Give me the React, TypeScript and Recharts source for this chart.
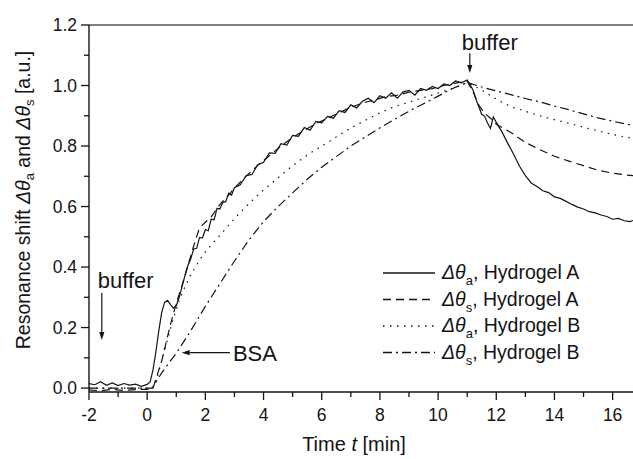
import React from "react";
import { LineChart, Line, XAxis, YAxis, ReferenceLine, Legend } from "recharts";

// [time (min), resonance shift (a.u.)]
const gelAThetaA: [number, number][] = [
  [-2, 0.015], [-1.8, 0.011], [-1.6, 0.021], [-1.4, 0.009], [-1.2, 0.017], [-1, 0.008],
  [-0.8, 0.015], [-0.6, 0.01], [-0.4, 0.013], [-0.2, 0.006], [0, 0.012],
  [0.1, 0.02], [0.2, 0.06], [0.3, 0.12], [0.4, 0.19], [0.5, 0.25], [0.6, 0.283], [0.7, 0.29],
  [0.8, 0.276], [0.9, 0.264], [1, 0.272], [1.1, 0.3], [1.2, 0.336], [1.3, 0.372], [1.4, 0.405],
  [1.5, 0.428], [1.6, 0.46], [1.7, 0.462], [1.8, 0.498], [1.9, 0.496], [2, 0.524], [2.1, 0.52],
  [2.2, 0.558], [2.3, 0.556], [2.4, 0.594], [2.5, 0.592], [2.6, 0.614], [2.7, 0.616],
  [2.8, 0.644], [2.9, 0.638], [3, 0.662],
  [3.2, 0.672], [3.4, 0.702], [3.6, 0.706], [3.8, 0.738], [4, 0.746], [4.2, 0.777],
  [4.4, 0.776], [4.6, 0.808], [4.8, 0.803], [5, 0.835], [5.2, 0.832], [5.4, 0.861],
  [5.6, 0.852], [5.8, 0.881], [6, 0.877], [6.2, 0.898], [6.4, 0.892], [6.6, 0.917],
  [6.8, 0.911], [7, 0.936], [7.2, 0.926], [7.4, 0.948], [7.6, 0.958], [7.8, 0.943],
  [8, 0.966], [8.2, 0.958], [8.4, 0.976], [8.6, 0.958], [8.8, 0.979], [9, 0.984],
  [9.2, 0.968], [9.4, 0.99], [9.6, 0.984], [9.8, 0.997], [10, 0.99], [10.2, 1.005],
  [10.4, 1.0], [10.6, 1.015], [10.8, 1.009], [11, 1.018],
  [11.1, 1.002], [11.2, 0.985], [11.3, 0.955], [11.4, 0.93], [11.5, 0.905], [11.6, 0.898],
  [11.7, 0.876], [11.8, 0.858], [11.9, 0.896], [12, 0.878],
  [12.2, 0.846], [12.4, 0.808], [12.6, 0.772], [12.8, 0.733], [13, 0.702], [13.2, 0.678],
  [13.4, 0.666], [13.6, 0.652], [13.8, 0.646], [14, 0.632], [14.2, 0.627], [14.4, 0.617],
  [14.6, 0.607], [14.8, 0.598], [15, 0.592], [15.2, 0.583], [15.4, 0.579], [15.6, 0.572],
  [15.8, 0.567], [16, 0.558], [16.2, 0.561], [16.4, 0.553], [16.6, 0.55], [16.7, 0.554],
];

const gelAThetaS: [number, number][] = [
  [-2, -0.006], [-1.6, -0.009], [-1.2, -0.004], [-0.8, -0.008], [-0.4, -0.005], [0, -0.004],
  [0.2, 0], [0.3, 0.03], [0.4, 0.06], [0.5, 0.09], [0.6, 0.13], [0.7, 0.17], [0.8, 0.21],
  [0.9, 0.245], [1, 0.28], [1.2, 0.34], [1.4, 0.405], [1.6, 0.47], [1.8, 0.53], [2, 0.548],
  [2.2, 0.566], [2.4, 0.594], [2.6, 0.618], [2.8, 0.638], [3, 0.661], [3.4, 0.7], [3.8, 0.736],
  [4.2, 0.768], [4.6, 0.8], [5, 0.828], [5.4, 0.852], [5.8, 0.874], [6.2, 0.892], [6.6, 0.91],
  [7, 0.928], [7.4, 0.942], [7.8, 0.952], [8.2, 0.963], [8.6, 0.968], [9, 0.978], [9.4, 0.984],
  [9.8, 0.99], [10.2, 1.0], [10.6, 1.008], [11, 1.014], [11.2, 0.98], [11.4, 0.935],
  [11.6, 0.908], [11.8, 0.892], [12, 0.872], [12.5, 0.845], [13, 0.812], [13.5, 0.788],
  [14, 0.766], [14.5, 0.75], [15, 0.735], [15.5, 0.72], [16, 0.71], [16.4, 0.705], [16.7, 0.702],
];

const gelBThetaA: [number, number][] = [
  [-2, 0], [0.2, 0], [0.3, 0.02], [0.5, 0.09], [0.7, 0.16], [0.9, 0.23], [1.1, 0.29],
  [1.3, 0.335], [1.5, 0.375], [1.75, 0.415], [2, 0.45], [2.5, 0.505], [3, 0.56], [3.5, 0.61],
  [4, 0.655], [4.5, 0.695], [5, 0.735], [5.5, 0.77], [6, 0.8], [6.5, 0.83], [7, 0.86],
  [7.5, 0.885], [8, 0.91], [8.5, 0.93], [9, 0.945], [9.5, 0.96], [10, 0.975], [10.5, 0.99],
  [11, 1.01], [11.5, 0.985], [12, 0.955], [12.5, 0.93], [13, 0.915], [13.5, 0.9], [14, 0.887],
  [14.5, 0.875], [15, 0.862], [15.5, 0.85], [16, 0.838], [16.7, 0.825],
];

const gelBThetaS: [number, number][] = [
  [-2, 0], [0.15, 0], [0.2, 0.005], [0.5, 0.05], [0.8, 0.09], [1, 0.115], [1.2, 0.145],
  [1.5, 0.19], [1.75, 0.23], [2, 0.27], [2.5, 0.345], [3, 0.42], [3.5, 0.49], [4, 0.55],
  [4.5, 0.6], [5, 0.645], [5.5, 0.69], [6, 0.73], [6.5, 0.765], [7, 0.8], [7.5, 0.83],
  [8, 0.86], [8.5, 0.888], [9, 0.915], [9.5, 0.94], [10, 0.965], [10.5, 0.99], [11, 1.01],
  [11.5, 0.995], [12, 0.982], [12.5, 0.97], [13, 0.957], [13.5, 0.946], [14, 0.932],
  [14.5, 0.92], [15, 0.906], [15.5, 0.893], [16, 0.882], [16.7, 0.868],
];

const xTicks = [-2, -1, 0, 1, 2, 3, 4, 5, 6, 7, 8, 9, 10, 11, 12, 13, 14, 15, 16];
const yTicks = [0, 0.1, 0.2, 0.3, 0.4, 0.5, 0.6, 0.7, 0.8, 0.9, 1.0, 1.1, 1.2];

const series = [
  { key: "Aa", data: gelAThetaA, sub: "a", gel: "Hydrogel A", dash: undefined },
  { key: "As", data: gelAThetaS, sub: "s", gel: "Hydrogel A", dash: "8 5" },
  { key: "Ba", data: gelBThetaA, sub: "a", gel: "Hydrogel B", dash: "1.5 5.5" },
  { key: "Bs", data: gelBThetaS, sub: "s", gel: "Hydrogel B", dash: "9 4 2 4" },
];

// annotation arrows: [start, end] in data coords
const bufferTopArrow = [{ x: 11.09, y: 1.107 }, { x: 11.09, y: 1.041 }];
const bufferLeftArrow = [{ x: -1.56, y: 0.314 }, { x: -1.56, y: 0.159 }];
const bsaArrow = [{ x: 2.845, y: 0.117 }, { x: 1.186, y: 0.117 }];

const FONT = '"Liberation Sans", Arial, sans-serif';
const INK = "#141414";

const XTick = (props: any) => {
  const { x, y, payload } = props;
  const v = payload.value;
  const major = v % 2 === 0;
  const axisY = y - 12;
  return (
    <g>
      <line x1={x} x2={x} y1={axisY} y2={axisY + (major ? 8 : 5)} stroke={INK} strokeWidth={1.3} />
      {major && (
        <text x={x} y={axisY + 29} textAnchor="middle" fontSize={17.5} fontFamily={FONT} fill={INK}>
          {v}
        </text>
      )}
    </g>
  );
};

const YTick = (props: any) => {
  const { x, y, payload } = props;
  const v = payload.value;
  const major = Math.round(v * 10) % 2 === 0;
  const axisX = x + 12;
  return (
    <g>
      <line x1={axisX} x2={axisX - (major ? 8 : 5)} y1={y} y2={y} stroke={INK} strokeWidth={1.3} />
      {major && (
        <text x={axisX - 12} y={y + 6} textAnchor="end" fontSize={17.5} fontFamily={FONT} fill={INK}>
          {v.toFixed(1)}
        </text>
      )}
    </g>
  );
};

const arrowShape = (label: string, dx: number, dy: number, anchor: string) => (p: any) => {
  const { x1, y1, x2, y2 } = p;
  const ang = Math.atan2(y2 - y1, x2 - x1);
  const L = 8;
  const W = 2.6;
  const bx = x2 - L * Math.cos(ang);
  const by = y2 - L * Math.sin(ang);
  const pts = `${x2},${y2} ${bx - W * Math.sin(ang)},${by + W * Math.cos(ang)} ${bx + W * Math.sin(ang)},${by - W * Math.cos(ang)}`;
  return (
    <g>
      <line x1={x1} y1={y1} x2={bx} y2={by} stroke={INK} strokeWidth={1.2} />
      <polygon points={pts} fill={INK} />
      <text x={x1 + dx} y={y1 + dy} textAnchor={anchor as any} fontSize={22} fontFamily={FONT} fill={INK}>
        {label}
      </text>
    </g>
  );
};

const renderLegend = () => (
  <svg width={255} height={108} style={{ display: "block" }}>
    {series.map((s, i) => {
      const cy = 15 + i * 26.5;
      return (
        <g key={s.key}>
          <line x1={5} x2={57} y1={cy} y2={cy} stroke={INK} strokeWidth={1.3} strokeDasharray={s.dash} />
          <text x={64} y={cy + 6} fontSize={19.5} fontFamily={FONT} fill={INK}>
            <tspan fontStyle="italic">Δθ</tspan>
            <tspan dy={6} fontSize={13}>{s.sub}</tspan>
            <tspan dy={-6}>, {s.gel}</tspan>
          </text>
        </g>
      );
    })}
  </svg>
);

const YTitle = () => (
  <text
    x={25}
    y={200}
    transform="rotate(-90 25 200)"
    textAnchor="middle"
    dominantBaseline="middle"
    fontSize={19.5}
    fontFamily={FONT}
    fill={INK}
  >
    Resonance shift <tspan fontStyle="italic">Δθ</tspan>
    <tspan dy={6} fontSize={13}>a</tspan>
    <tspan dy={-6}> and </tspan>
    <tspan fontStyle="italic">Δθ</tspan>
    <tspan dy={6} fontSize={13}>s</tspan>
    <tspan dy={-6}> [a.u.]</tspan>
  </text>
);

const XTitle = () => (
  <text x={354} y={451} textAnchor="middle" fontSize={20} fontFamily={FONT} fill={INK}>
    Time <tspan fontStyle="italic">t</tspan> [min]
  </text>
);

export default function App() {
  return (
    <div style={{ position: "absolute", left: 0, top: 0, width: 633, height: 459, background: "#fff" }}>
      <LineChart width={633} height={459} margin={{ top: 25, right: 0, bottom: 0, left: 0 }}>
        <XAxis
          type="number"
          dataKey="t"
          domain={[-2, 16.7]}
          allowDataOverflow
          ticks={xTicks}
          interval={0}
          height={67}
          tickSize={8}
          tickMargin={4}
          tickLine={false}
          tick={<XTick />}
          axisLine={{ stroke: INK, strokeWidth: 1.4 }}
          label={{ content: () => <XTitle /> }}
        />
        <YAxis
          type="number"
          domain={[-0.013, 1.2]}
          allowDataOverflow
          ticks={yTicks}
          interval={0}
          width={89}
          tickSize={8}
          tickMargin={4}
          tickLine={false}
          tick={<YTick />}
          axisLine={{ stroke: INK, strokeWidth: 1.4 }}
          label={{ content: () => <YTitle /> }}
        />
        <ReferenceLine y={1.2} stroke="#555" strokeWidth={1.4} />
        {series.map((s) => (
          <Line
            key={s.key}
            data={s.data.map(([t, v]) => ({ t, v }))}
            dataKey="v"
            type="linear"
            stroke={INK}
            strokeWidth={1.2}
            strokeDasharray={s.dash}
            dot={false}
            activeDot={false}
            isAnimationActive={false}
          />
        ))}
        <ReferenceLine segment={bufferTopArrow} shape={arrowShape("buffer", 20, -3, "middle")} />
        <ReferenceLine segment={bufferLeftArrow} shape={arrowShape("buffer", -4, -5, "start")} />
        <ReferenceLine segment={bsaArrow} shape={arrowShape("BSA", 3, 8, "start")} />
        <Legend
          layout="horizontal"
          verticalAlign="middle"
          align="center"
          content={renderLegend}
          wrapperStyle={{ left: 378, top: 258, width: 255, height: 108 }}
        />
      </LineChart>
    </div>
  );
}
